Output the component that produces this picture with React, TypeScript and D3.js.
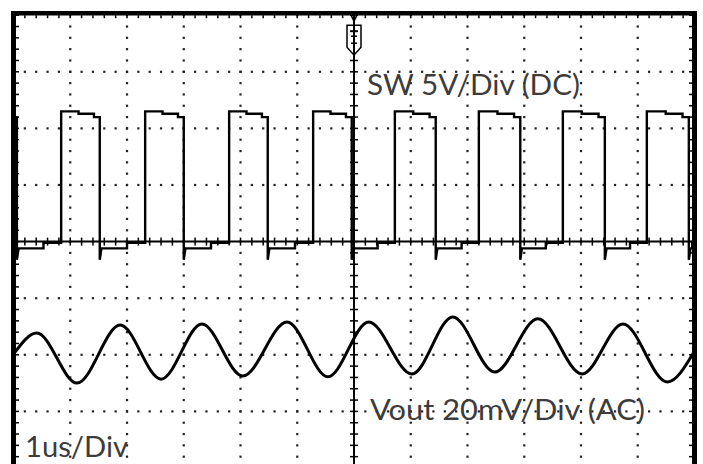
import React from 'react';
import * as d3 from 'd3';

// screen: 12 div x 8 div, 1us/div, trigger at centre
const timeDivs = d3.range(-5, 6, 1);
const levelDivs = d3.range(-3, 4, 1);

// SW node, 5V/Div (DC) - edge times in us
const swRise = [-5.16, -3.68, -2.2, -0.72, 0.72, 2.2, 3.68, 5.16];
const swFall = [-5.94, -4.48, -3.0, -1.52, -0.04, 1.44, 2.93, 4.42, 5.9];
// high level: start, after droop, end (V)
const swHigh = [11.5, 11.3, 11.0];
// low level: undershoot, plateau, before next turn-on (V)
const swLow = [-1.6, -0.6, -0.1];

// Vout ripple, 20mV/Div (AC), peaks and troughs
const voutT = [-5.97, -5.59, -4.88, -4.12, -3.4, -2.68, -1.96, -1.18, -0.46, 0.26, 1.02, 1.74, 2.48, 3.24, 4.02, 4.74, 5.52, 5.99];
const voutMv = [1.0, 7.7, -10.0, 10.5, -8.6, 10.9, -7.5, 11.6, -7.8, 11.6, -6.8, 13.4, -6.1, 12.7, -6.8, 10.9, -9.6, 1.0];
const voutOffsetDiv = -2;

const labels = {
  sw: 'SW 5V/Div (DC)',
  vout: 'Vout 20mV/Div (AC)',
  time: '1us/Div',
};

export default function App() {
  const width = 703;
  const height = 464;
  const divPx = 56.6;
  const cy = 241.6;

  const x = d3.scaleLinear().domain([-6, 6]).range([13.5, 694.5]);
  const y = d3.scaleLinear().domain([-4, 4]).range([cy + 4 * divPx, cy - 4 * divPx]);
  const ySW = (v: number) => y(v / 5);
  const yVout = (mv: number) => y(voutOffsetDiv + mv / 20);

  // build the switching waveform as steps between edges
  const edges = [
    ...swRise.map(t => ({ t, kind: 'r' })),
    ...swFall.map(t => ({ t, kind: 'f' })),
  ].sort((a, b) => a.t - b.t);
  const swPts: [number, number][] = [[-6, swHigh[2]]];
  edges.forEach((e, i) => {
    const next = i < edges.length - 1 ? edges[i + 1].t : 6;
    const span = next - e.t;
    if (e.kind === 'f') {
      swPts.push([e.t, swHigh[2]], [e.t, swLow[0]], [e.t + 0.03, swLow[1]]);
      const m = e.t + 0.6 * span;
      swPts.push([m, swLow[1]], [m, swLow[2]], [next, swLow[2]]);
    } else {
      swPts.push([e.t, swLow[2]], [e.t, swHigh[0]]);
      const m1 = e.t + 0.45 * span;
      const m2 = e.t + 0.85 * span;
      swPts.push([m1, swHigh[0]], [m1, swHigh[1]], [m2, swHigh[1]], [m2, swHigh[2]], [next, swHigh[2]]);
    }
  });
  const swLine = d3.line<[number, number]>()
    .x(d => x(d[0]))
    .y(d => ySW(d[1]));

  const voutLine = d3.line<number>()
    .x((d, i) => x(voutT[i]))
    .y(d => yVout(d))
    .curve(d3.curveMonotoneX);

  const minorX = d3.range(-6, 6.001, 0.2);
  const minorY = d3.range(-4, 4.001, 0.2);
  const dot = '#222';

  const yTop = y(4);
  const yBot = y(-4);

  return (
    <div style={{ position: 'absolute', left: 0, top: 0 }}>
      <svg width={width} height={height} style={{ display: 'block', background: '#fff' }}>
        {/* dotted graticule */}
        <g fill={dot}>
          {timeDivs.filter(t => t !== 0).map(t =>
            minorY.map(v => (
              <rect key={`v${t}_${v}`} x={x(t) - 1.1} y={y(v) - 1.1} width={2.2} height={2.2} />
            ))
          )}
          {levelDivs.filter(v => v !== 0).map(v =>
            minorX.map(t => (
              <rect key={`h${v}_${t}`} x={x(t) - 1.1} y={y(v) - 1.1} width={2.2} height={2.2} />
            ))
          )}
        </g>

        {/* centre axes with minor ticks */}
        <g stroke="#000">
          <line x1={x(-6)} x2={x(6)} y1={y(0)} y2={y(0)} strokeWidth={2} />
          <line x1={x(0)} x2={x(0)} y1={yTop} y2={height} strokeWidth={2} />
          {minorX.map(t => (
            <line key={`tx${t}`} x1={x(t)} x2={x(t)} y1={y(0) - 4} y2={y(0) + 4} strokeWidth={1.5} />
          ))}
          {minorY.map(v => (
            <line key={`ty${v}`} x1={x(0) - 4} x2={x(0) + 4} y1={y(v)} y2={y(v)} strokeWidth={1.5} />
          ))}
        </g>

        {/* frame and its inner ticks */}
        <g stroke="#000">
          <line x1={x(-6) - 2.5} x2={x(6) + 2.5} y1={yTop - 2} y2={yTop - 2} strokeWidth={4.5} />
          <line x1={x(-6)} x2={x(-6)} y1={yTop - 4} y2={yBot} strokeWidth={5} />
          <line x1={x(6)} x2={x(6)} y1={yTop - 4} y2={yBot} strokeWidth={5} />
          {minorX.map(t => (
            <line key={`bt${t}`} x1={x(t)} x2={x(t)} y1={yTop} y2={yTop + 3} strokeWidth={1.5} />
          ))}
          {minorY.map(v => (
            <line key={`bl${v}`} x1={x(-6)} x2={x(-6) + 5.5} y1={y(v)} y2={y(v)} strokeWidth={1.5} />
          ))}
          {minorY.map(v => (
            <line key={`br${v}`} x1={x(6) - 5.5} x2={x(6)} y1={y(v)} y2={y(v)} strokeWidth={1.5} />
          ))}
        </g>

        {/* trigger marker */}
        <g stroke="#000" fill="#fff" strokeWidth={1.5}>
          <path d={`M${x(0) - 3},${yTop} L${x(0)},${yTop + 6} L${x(0) + 3},${yTop}`} fill="none" />
          <path d={`M${x(0) - 7},${yTop + 10} H${x(0) + 7} V${yTop + 32} L${x(0)},${yTop + 40} L${x(0) - 7},${yTop + 32} Z`} />
          <line x1={x(0)} x2={x(0)} y1={yTop} y2={yTop + 45} strokeWidth={2} />
          <line x1={x(0) - 4} x2={x(0) + 4} y1={yTop + 16} y2={yTop + 16} strokeWidth={2} />
          <line x1={x(0) - 3} x2={x(0) + 3} y1={yTop + 21} y2={yTop + 21} />
          <line x1={x(0) - 3} x2={x(0) + 3} y1={yTop + 28} y2={yTop + 28} />
        </g>

        {/* traces */}
        <path d={swLine(swPts) || ''} fill="none" stroke="#000" strokeWidth={2.4} />
        <path d={voutLine(voutMv) || ''} fill="none" stroke="#000" strokeWidth={3} strokeLinejoin="round" />

        {/* annotations */}
        <g fill="#3c3c3c" fontFamily="Lato, 'Open Sans', sans-serif" fontSize={29}>
          <text x={367} y={95} textLength={213} lengthAdjust="spacingAndGlyphs">{labels.sw}</text>
          <text x={370} y={420} textLength={275} lengthAdjust="spacingAndGlyphs">{labels.vout}</text>
          <text x={25} y={457} textLength={103} lengthAdjust="spacingAndGlyphs">{labels.time}</text>
        </g>
      </svg>
    </div>
  );
}
